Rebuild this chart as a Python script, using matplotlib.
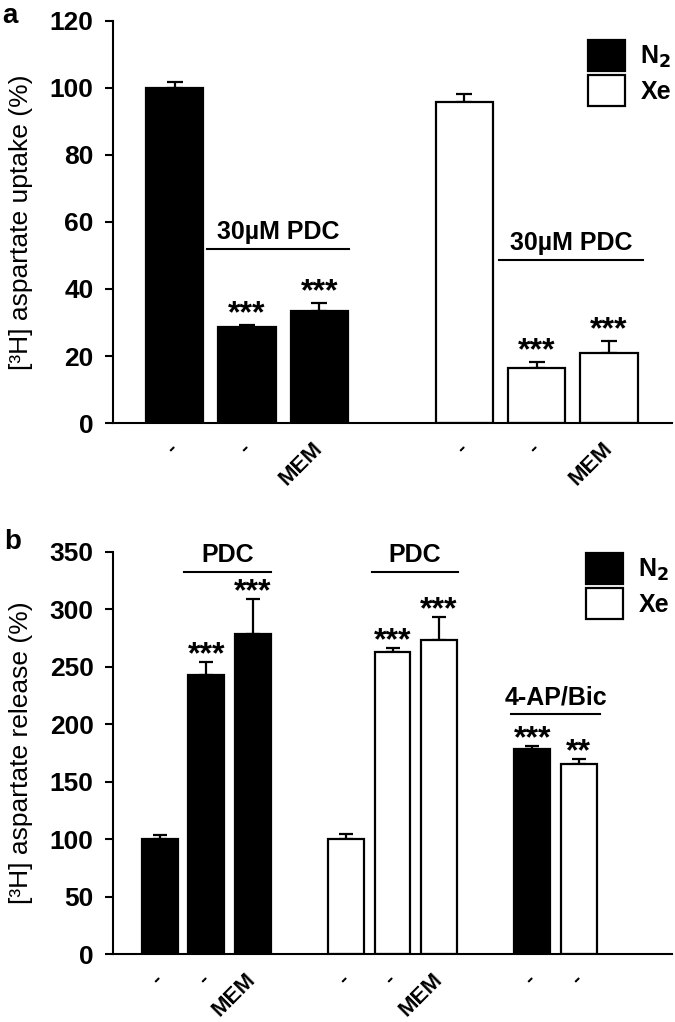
import matplotlib
matplotlib.use("Agg")
import matplotlib.pyplot as plt
from matplotlib.patches import Patch

plt.rcParams["font.family"] = ["Liberation Sans", "DejaVu Sans"]

# panel a : captage
a_pos = [0, 1, 2, 4, 5, 6]
a_labels = ["-", "-", "MEM", "-", "-", "MEM"]
a_gas = ["N2", "N2", "N2", "Xe", "Xe", "Xe"]
a_vals = [100, 28.7, 33.5, 95.9, 16.3, 20.8]
a_err = [1.6, 0.7, 2.4, 2.2, 1.8, 3.8]
a_stars = ["", "***", "***", "", "***", "***"]

# panel b : libération
b_pos = [0, 1, 2, 4, 5, 6, 8, 9]
b_labels = ["-", "-", "MEM", "-", "-", "MEM", "-", "-"]
b_gas = ["N2", "N2", "N2", "Xe", "Xe", "Xe", "N2", "Xe"]
b_vals = [100, 243, 278, 100.5, 263, 273, 178, 165.5]
b_err = [3.5, 11, 31, 4.3, 3.5, 20, 3.2, 4.2]
b_stars = ["", "***", "***", "", "***", "***", "***", "**"]

FS = 18
fill = {"N2": "black", "Xe": "white"}


def draw(ax, pos, vals, err, gas, labels, stars, width, capsize, star_off):
    ax.bar(pos, vals, width=width, color=[fill[g] for g in gas],
           edgecolor="black", linewidth=1.6, zorder=2)
    ax.errorbar(pos, vals, yerr=[[0] * len(err), err], fmt="none",
                ecolor="black", elinewidth=1.6, capsize=capsize, capthick=1.6, zorder=1)
    for p, v, e, s in zip(pos, vals, err, stars):
        if s:
            # l'astérisque est haut dans la police : on ancre sur la ligne de base
            ax.annotate(s, (p, v + e), xytext=(0, star_off), textcoords="offset points",
                        ha="center", va="baseline", fontsize=23, fontweight="bold")
    ax.set_xticks(pos)
    ax.set_xticklabels(labels, rotation=45, ha="right", va="center",
                       rotation_mode="anchor", fontsize=16, fontweight="bold")
    ax.tick_params(axis="x", length=0, pad=16)
    ax.tick_params(axis="y", direction="out", length=6, width=1.5, labelsize=19, pad=8)
    for t in ax.get_yticklabels():
        t.set_fontweight("bold")
    for s in ("top", "right"):
        ax.spines[s].set_visible(False)
    for s in ("left", "bottom"):
        ax.spines[s].set_linewidth(1.5)


def bracket(ax, x0, x1, y, label):
    ax.plot([x0, x1], [y, y], color="black", lw=1.5, clip_on=False)
    ax.annotate(label, ((x0 + x1) / 2, y), xytext=(0, 7), textcoords="offset points",
                ha="center", va="baseline", fontsize=FS, fontweight="bold")


fig = plt.figure(figsize=(6.75, 10.22), dpi=100)
ax1 = fig.add_axes([0.1674, 0.586, 0.8282, 0.3937])
ax2 = fig.add_axes([0.1674, 0.0665, 0.8282, 0.3937])

draw(ax1, a_pos, a_vals, a_err, a_gas, a_labels, a_stars, 0.79, 6, 2)
ax1.set_xlim(-0.85, 6.87)
ax1.set_ylim(0, 120)
ax1.set_yticks(range(0, 121, 20))
ax1.set_ylabel("[³H] aspartate uptake (%)", fontsize=19, labelpad=12)
bracket(ax1, 0.45, 2.41, 52, "30µM PDC")
bracket(ax1, 4.48, 6.47, 48.7, "30µM PDC")

draw(ax2, b_pos, b_vals, b_err, b_gas, b_labels, b_stars, 0.77, 5, -1)
ax2.set_xlim(-1.0, 11.0)
ax2.set_ylim(0, 350)
ax2.set_yticks(range(0, 351, 50))
ax2.set_ylabel("[³H] aspartate release (%)", fontsize=19, labelpad=12)
bracket(ax2, 0.52, 2.4, 332.7, "PDC")
bracket(ax2, 4.55, 6.4, 332.7, "PDC")
bracket(ax2, 7.55, 9.45, 209, "4-AP/Bic")

handles = [Patch(facecolor="black", edgecolor="black", linewidth=1.6, label="N$_\\mathbf{2}$"),
           Patch(facecolor="white", edgecolor="black", linewidth=1.6, label="Xe")]
for ax, anchor in ((ax1, (0.871, 0.961)), (ax2, (0.868, 0.459))):
    ax.legend(handles=handles, loc="upper left", bbox_to_anchor=anchor,
              bbox_transform=fig.transFigure, frameon=False,
              prop={"size": FS, "weight": "bold"},
              handlelength=1.5, handleheight=1.55, labelspacing=0.15,
              handletextpad=0.6, borderaxespad=0, borderpad=0)

fig.text(0.004, 0.997, "a", fontsize=20, fontweight="bold", va="top", ha="left")
fig.text(0.006, 0.482, "b", fontsize=20, fontweight="bold", va="top", ha="left")

fig.savefig("out.png", dpi=100)
